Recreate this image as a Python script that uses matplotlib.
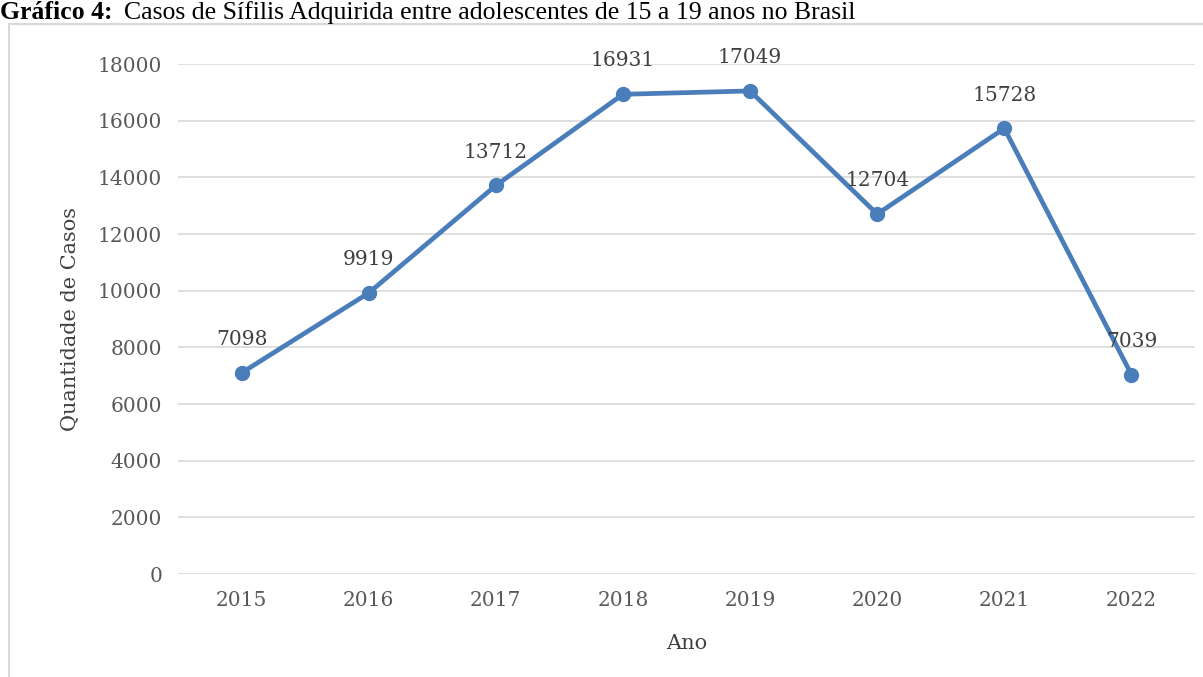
import matplotlib
matplotlib.use("Agg")
import matplotlib.pyplot as plt
from matplotlib.patches import Rectangle

years = ["2015", "2016", "2017", "2018", "2019", "2020", "2021", "2022"]
cases = [7098, 9919, 13712, 16931, 17049, 12704, 15728, 7039]
yticks = [0, 2000, 4000, 6000, 8000, 10000, 12000, 14000, 16000, 18000]

W, H = 1203, 677
fig = plt.figure(figsize=(W / 100, H / 100), dpi=100)
fig.patch.set_facecolor("white")

# chart frame
fig.patches.append(Rectangle((9 / W, -0.01), 1.0, 1 - 24 / H + 0.01,
                             transform=fig.transFigure, fill=False,
                             edgecolor="#d9d9d9", linewidth=1.5))

# title
fig.text(0.0, 1 - 19 / H, "Gráfico 4:", fontsize=18.5, fontweight="bold",
         family="Liberation Serif", va="baseline", ha="left")
fig.text(124 / W, 1 - 19 / H,
         "Casos de Sífilis Adquirida entre adolescentes de 15 a 19 anos no Brasil",
         fontsize=18.5, family="Liberation Serif", va="baseline", ha="left")

ax = fig.add_axes([178 / W, 1 - 574 / H, (1195 - 178) / W, (574 - 64) / H])
x = list(range(len(years)))
ax.plot(x, cases, color="#4a7ebb", linewidth=3.4, marker="o", markersize=10,
        zorder=3)
ax.set_xlim(-0.5, len(years) - 0.5)
ax.set_ylim(0, 18000)
ax.set_yticks(yticks)
ax.set_yticklabels([str(v) for v in yticks])
ax.set_xticks(x)
ax.set_xticklabels(years)
ax.grid(axis="y", color="#d9d9d9", linewidth=1.2)
ax.set_axisbelow(True)
for s in ax.spines.values():
    s.set_visible(False)
ax.tick_params(axis="both", length=0, labelsize=14.5, colors="#595959")
ax.tick_params(axis="y", pad=11.5)
ax.tick_params(axis="x", pad=12)
for lab in ax.get_xticklabels() + ax.get_yticklabels():
    lab.set_family("DejaVu Serif")

for xi, v in zip(x, cases):
    ax.annotate(str(v), (xi, v), xytext=(0, 24), textcoords="offset points",
                ha="center", va="center", fontsize=14.5, color="#404040",
                family="DejaVu Serif")

ax.set_ylabel("Quantidade de Casos", fontsize=15, color="#404040",
              family="DejaVu Serif")
ax.yaxis.set_label_coords((80 - 178) / 1017, 0.5)
ax.set_xlabel("Ano", fontsize=15, color="#404040", family="DejaVu Serif")
ax.xaxis.set_label_coords(0.5, (574 - 634) / 510)

fig.savefig("out.png", dpi=100)
